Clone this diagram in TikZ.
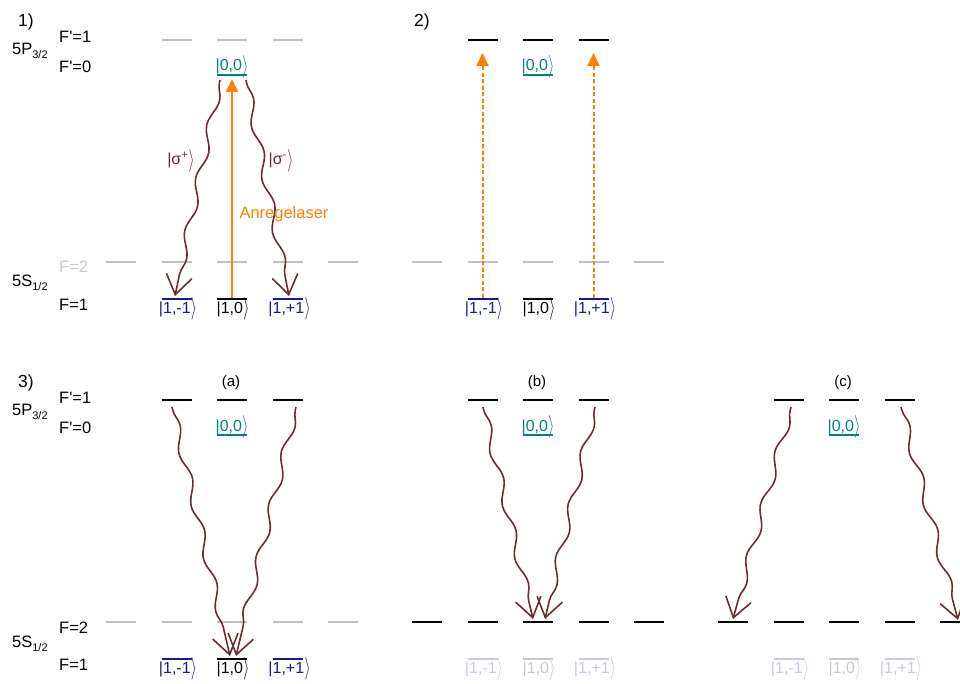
\documentclass[tikz,border=0pt]{standalone}
\usepackage{fontspec}
\setmainfont{Liberation Sans}
\usetikzlibrary{arrows.meta,decorations.pathmorphing}
\definecolor{navyc}{RGB}{25,25,140}
\definecolor{tealc}{RGB}{0,128,128}
\definecolor{grayc}{RGB}{191,191,191}
\definecolor{gtext}{RGB}{200,200,200}
\definecolor{fadeb}{RGB}{200,200,230}
\definecolor{fadeg}{RGB}{200,200,200}
\definecolor{brownc}{RGB}{102,48,48}
\definecolor{orangec}{RGB}{255,128,0}
\newcommand\lvlbar[3]{\draw[#1] (#2-15,#3) -- (#2+15,#3);}
\newcommand\myrang{\kern0.3pt\raisebox{-1.2pt}{\scalebox{0.9}[1.3]{$\rangle$}}}
\newcommand\myket[1]{|#1\myrang}
\newcommand\mysub[1]{\raisebox{-4pt}{\fontsize{11}{12}\selectfont #1}}
\newcommand\ap{\textquotesingle}
\begin{document}
\begin{tikzpicture}[x=1pt,y=-1pt,
  every node/.style={inner sep=0pt},
  lvl/.style={line width=2.6pt, draw=black},
  glvl/.style={line width=2pt, draw=grayc},
  blvl/.style={line width=2.6pt, draw=navyc},
  tlvl/.style={line width=2.6pt, draw=tealc},
  fblvl/.style={line width=2.6pt, draw=fadeb},
  fglvl/.style={line width=2.6pt, draw=fadeg},
  lab/.style={font=\fontsize{16.5}{18}\selectfont, anchor=base west},
  num/.style={font=\fontsize{17.5}{19}\selectfont, anchor=base west},
  sub/.style={font=\fontsize{15}{17}\selectfont, anchor=base},
  ketf/.style={font=\fontsize{16}{18}\selectfont, anchor=base},
  wave/.style={draw=brownc, line width=1.6pt, decorate,
    decoration={snake, amplitude=3.8pt, segment length=54pt, pre length=3pt, post length=18pt},
    -{Straight Barb[length=19pt,width=26pt,line width=1.6pt]}},
  laser/.style={draw=orangec, line width=2pt, -{Triangle[length=13pt,width=12pt]}},
  laserd/.style={laser, dash pattern=on 4pt off 2.5pt}]
\useasboundingbox (0,0) rectangle (960,684);

% ---------- Panel 1 ----------
\foreach \x in {176.5,232,287.5} {\lvlbar{glvl}{\x}{40}}
\lvlbar{tlvl}{232}{75}
\foreach \x in {121,176.5,232,287.5,343} {\lvlbar{glvl}{\x}{262}}
\lvlbar{blvl}{176.5}{299}
\lvlbar{lvl}{232}{299}
\lvlbar{blvl}{287.5}{299}

\node[num] (n1) at (18,27) {1)};
\node[lab] (p1a) at (59,43) {F\ap=1};
\node[lab] (p1b) at (12,55) {5P\mysub{3/2}};
\node[lab] (p1c) at (59,73) {F\ap=0};
\node[lab, text=gtext] (p1d) at (59,273) {F=2};
\node[lab] (p1e) at (12,287) {5S\mysub{1/2}};
\node[lab] (p1f) at (59,310) {F=1};

\node[ketf, text=tealc] (k100) at (232,71) {\myket{0,0}};
\node[ketf, text=navyc] (k1m) at (178,313) {\myket{1,-1}};
\node[ketf] (k10) at (233,313) {\myket{1,0}};
\node[ketf, text=navyc] (k1p) at (289.5,313) {\myket{1,+1}};

\coordinate (w1s) at (220,80);
\coordinate (w1e) at (175,296);
\coordinate (w2s) at (246,80);
\coordinate (w2e) at (289,296);
\draw[wave] (w1s) -- (w1e);
\draw[wave] (w2s) -- (w2e);
\node[ketf, text=brownc] (sp) at (181,165) {|σ\textsuperscript{+}\myrang};
\node[ketf, text=brownc] (sm) at (281,165) {|σ\textsuperscript{-}\myrang};

\coordinate (l1s) at (232,298);
\coordinate (l1e) at (232,79);
\draw[laser] (l1s) -- (l1e);
\node[lab, text=orangec, anchor=base] (anr) at (284,219) {Anregelaser};

% ---------- Panel 2 ----------
\foreach \x in {482.5,538,593.5} {\lvlbar{lvl}{\x}{40}}
\lvlbar{tlvl}{538}{75}
\foreach \x in {427,482.5,538,593.5,649} {\lvlbar{glvl}{\x}{262}}
\lvlbar{blvl}{482.5}{299}
\lvlbar{lvl}{538}{299}
\lvlbar{blvl}{593.5}{299}

\node[num] (n2) at (414,27) {2)};
\node[ketf, text=tealc] (k200) at (538,71) {\myket{0,0}};
\node[ketf, text=navyc] (k2m) at (484,313) {\myket{1,-1}};
\node[ketf] (k20) at (539,313) {\myket{1,0}};
\node[ketf, text=navyc] (k2p) at (595,313) {\myket{1,+1}};

\coordinate (l2s) at (482.5,298);
\coordinate (l2e) at (482.5,53);
\coordinate (l3s) at (593.5,298);
\coordinate (l3e) at (593.5,53);
\draw[laserd] (l2s) -- (l2e);
\draw[laserd] (l3s) -- (l3e);

% ---------- Panel 3 labels ----------
\node[num] (n3) at (18,387) {3)};
\node[lab] (p3a) at (59,403) {F\ap=1};
\node[lab] (p3b) at (12,415) {5P\mysub{3/2}};
\node[lab] (p3c) at (59,433) {F\ap=0};
\node[lab] (p3d) at (59,633) {F=2};
\node[lab] (p3e) at (12,647) {5S\mysub{1/2}};
\node[lab] (p3f) at (59,670) {F=1};

% ---------- Panel 3a ----------
\foreach \x in {176.5,232,287.5} {\lvlbar{lvl}{\x}{400}}
\lvlbar{tlvl}{232}{435}
\foreach \x in {121,176.5,232,287.5,343} {\lvlbar{glvl}{\x}{622}}
\lvlbar{blvl}{176.5}{659}
\lvlbar{lvl}{232}{659}
\lvlbar{blvl}{287.5}{659}
\node[sub] (ta) at (231,386) {(a)};
\node[ketf, text=tealc] (k300) at (232,431) {\myket{0,0}};
\node[ketf, text=navyc] (k3m) at (178,673) {\myket{1,-1}};
\node[ketf] (k30) at (233,673) {\myket{1,0}};
\node[ketf, text=navyc] (k3p) at (289.5,673) {\myket{1,+1}};
\coordinate (a1s) at (172,407);
\coordinate (a1e) at (230,656);
\coordinate (a2s) at (296,407);
\coordinate (a2e) at (236,656);
\draw[wave] (a1s) -- (a1e);
\draw[wave] (a2s) -- (a2e);

% ---------- Panel 3b ----------
\foreach \x in {482.5,538,593.5} {\lvlbar{lvl}{\x}{400}}
\lvlbar{tlvl}{538}{435}
\foreach \x in {427,482.5,538,593.5,649} {\lvlbar{lvl}{\x}{622}}
\lvlbar{fblvl}{482.5}{659}
\lvlbar{fglvl}{538}{659}
\lvlbar{fblvl}{593.5}{659}
\node[sub] (tb) at (537,386) {(b)};
\node[ketf, text=tealc] (k400) at (538,431) {\myket{0,0}};
\node[ketf, text=fadeb] (k4m) at (484,673) {\myket{1,-1}};
\node[ketf, text=fadeg] (k40) at (539,673) {\myket{1,0}};
\node[ketf, text=fadeb] (k4p) at (595,673) {\myket{1,+1}};
\coordinate (b1s) at (483,407);
\coordinate (b1e) at (533,619);
\coordinate (b2s) at (595,407);
\coordinate (b2e) at (545,619);
\draw[wave] (b1s) -- (b1e);
\draw[wave] (b2s) -- (b2e);

% ---------- Panel 3c ----------
\foreach \x in {788.5,844,899.5} {\lvlbar{lvl}{\x}{400}}
\lvlbar{tlvl}{844}{435}
\foreach \x in {733,788.5,844,899.5,955} {\lvlbar{lvl}{\x}{622}}
\lvlbar{fblvl}{788.5}{659}
\lvlbar{fglvl}{844}{659}
\lvlbar{fblvl}{899.5}{659}
\node[sub] (tc) at (843,386) {(c)};
\node[ketf, text=tealc] (k500) at (844,431) {\myket{0,0}};
\node[ketf, text=fadeb] (k5m) at (790,673) {\myket{1,-1}};
\node[ketf, text=fadeg] (k50) at (845,673) {\myket{1,0}};
\node[ketf, text=fadeb] (k5p) at (901,673) {\myket{1,+1}};
\coordinate (c1s) at (791,407);
\coordinate (c1e) at (733,619);
\coordinate (c2s) at (901,407);
\coordinate (c2e) at (958,620);
\draw[wave] (c1s) -- (c1e);
\draw[wave] (c2s) -- (c2e);
\end{tikzpicture}
\end{document}
